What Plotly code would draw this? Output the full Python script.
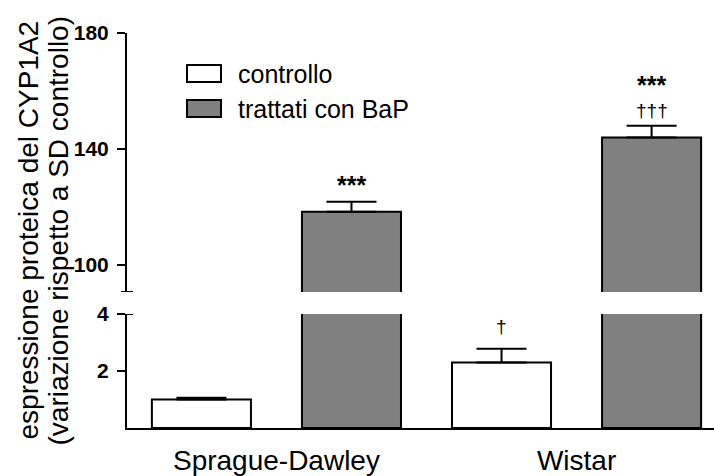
import plotly.graph_objects as go

# ---------------- data ----------------
categories = ["Sprague-Dawley", "Wistar"]
series_names = ["controllo", "trattati con BaP"]
controllo = [1.0, 2.30]
controllo_err = [0.06, 0.48]
bap = [118.4, 144.0]
bap_err = [3.4, 4.0]
lower_ticks = [2, 4]
upper_ticks = [100, 140, 180]
lower_range = [0, 4]
upper_range = [90.7, 180]
y_title_lines = ["espressione proteica del CYP1A2", "(variazione rispetto a SD controllo)"]
# significance marks: (category, series, text, pixel lift above error cap)
sig_cat = ["Sprague-Dawley", "Wistar", "Wistar", "Wistar"]
sig_series = ["trattati con BaP", "trattati con BaP", "trattati con BaP", "controllo"]
sig_text = ["***", "***", "†††", "†"]
sig_lift = [23, 47, 15, 22]

# ---------------- layout constants ----------------
W, H = 714, 476
ML, MR, MT, MB = 127, 0, 33, 48
PW, PH = W - ML - MR, H - MT - MB
FONT = "Liberation Sans, Arial, Helvetica, sans-serif"
GRAY = "#808080"
BAR_W = 0.33
OFFS = {"controllo": -0.415, "trattati con BaP": 0.085}
FILL = {"controllo": "white", "trattati con BaP": GRAY}


def px_x(p):
    return (p - ML) / PW


def px_y(p):
    return (H - MB - p) / PH


lower_dom = [0, px_y(314)]
upper_dom = [px_y(292), 1]

fig = go.Figure()

values = {"controllo": (controllo, controllo_err), "trattati con BaP": (bap, bap_err)}
for name in series_names:
    vals, errs = values[name]
    for ax in ["y", "y2"]:
        show_err = (name == "controllo" and ax == "y") or (name != "controllo" and ax == "y2")
        fig.add_trace(go.Bar(
            x=categories, y=vals, name=name, yaxis=ax, xaxis="x",
            width=BAR_W, offset=OFFS[name],
            marker=dict(color=FILL[name], line=dict(color="black", width=2)),
            error_y=dict(type="data", symmetric=False, array=errs,
                         arrayminus=[0] * len(errs), color="black",
                         thickness=2, width=25, visible=show_err),
            showlegend=False, hoverinfo="skip",
        ))

axis_common = dict(showline=True, linecolor="black", linewidth=2, ticks="outside",
                   ticklen=8, tickwidth=2, tickcolor="black", showgrid=False,
                   zeroline=False, automargin=False,
                   tickfont=dict(family=FONT, size=21, color="black", weight="bold"),
                   ticklabelstandoff=4)

fig.update_layout(
    width=W, height=H,
    margin=dict(l=ML, r=MR, t=MT, b=MB),
    paper_bgcolor="white", plot_bgcolor="rgba(0,0,0,0)",
    barmode="overlay",
    showlegend=False,
    xaxis=dict(type="category", categoryorder="array", categoryarray=categories,
               range=[-0.498, 1.458], showline=True, linecolor="black", linewidth=2,
               ticks="", showgrid=False, zeroline=False, anchor="y", automargin=False,
               tickfont=dict(family=FONT, size=28, color="black"),
               ticklabelstandoff=6),
    yaxis=dict(domain=lower_dom, range=lower_range, tickvals=lower_ticks,
               anchor="x", **axis_common),
    yaxis2=dict(domain=upper_dom, range=upper_range, tickvals=upper_ticks,
                anchor="x", **axis_common),
)

# axis-break end marks
fig.add_shape(type="line", xref="paper", xsizemode="pixel", xanchor=0, x0=-6, x1=6,
              yref="y", y0=lower_range[1], y1=lower_range[1],
              line=dict(color="black", width=2))
fig.add_shape(type="line", xref="paper", xsizemode="pixel", xanchor=0, x0=-6, x1=6,
              yref="y2", y0=upper_range[0], y1=upper_range[0],
              line=dict(color="black", width=2))

# y-axis title, two lines
for i, line in enumerate(y_title_lines):
    fig.add_annotation(text=line, xref="paper", yref="paper", x=0, y=0.5,
                       xanchor="center", yanchor="middle", xshift=[28, 58][i] - ML,
                       textangle=-90, showarrow=False,
                       font=dict(family=FONT, size=28, color="black"))

# legend (drawn manually to match the wide swatches)
leg_top = [65, 100]
for i, name in enumerate(series_names):
    fig.add_shape(type="rect", xref="paper", yref="paper",
                  x0=px_x(187), x1=px_x(221), y0=px_y(leg_top[i] + 17), y1=px_y(leg_top[i]),
                  fillcolor=FILL[name], line=dict(color="black", width=2))
    fig.add_annotation(text=name, xref="paper", yref="paper", x=px_x(236),
                       y=px_y(leg_top[i] + 8.5), xanchor="left", yanchor="middle",
                       showarrow=False, font=dict(family=FONT, size=25, color="black"))

# significance marks
for c, s, t, lift in zip(sig_cat, sig_series, sig_text, sig_lift):
    ci = categories.index(c)
    vals, errs = values[s]
    top = vals[ci] + errs[ci]
    is_star = t.startswith("*")
    fig.add_annotation(text=t, x=ci + OFFS[s] + BAR_W / 2, xref="x",
                       y=top, yref="y" if s == "controllo" else "y2",
                       yanchor="middle", xanchor="center", yshift=lift - (6 if is_star else 0),
                       showarrow=False,
                       font=dict(family=FONT, size=25 if is_star else 19, color="black",
                                 weight="bold" if is_star else "normal"))

fig.write_html("out.html")
